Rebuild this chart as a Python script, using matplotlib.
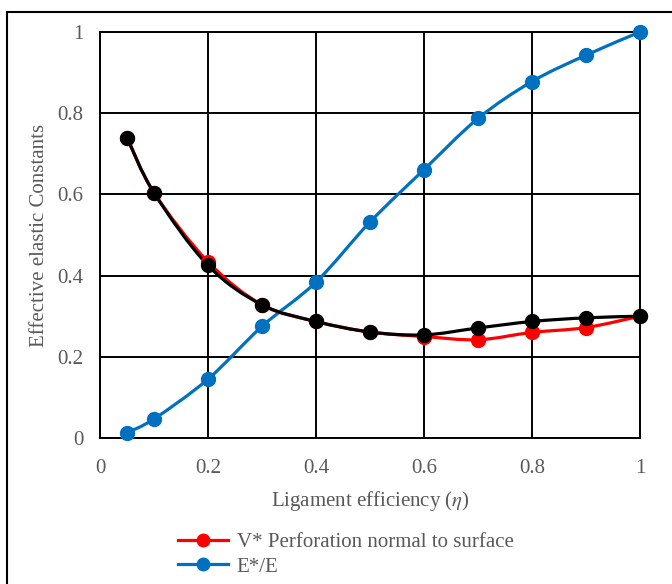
import numpy as np
import matplotlib
matplotlib.use("Agg")
import matplotlib.pyplot as plt
from matplotlib.path import Path
from matplotlib.patches import PathPatch, Rectangle
from matplotlib.lines import Line2D

plt.rcParams['font.family'] = ['Liberation Serif', 'DejaVu Serif']
plt.rcParams['mathtext.fontset'] = 'stix'

eta = [0.05, 0.1, 0.2, 0.3, 0.4, 0.5, 0.6, 0.7, 0.8, 0.9, 1.0]
v_normal = [0.740, 0.604, 0.434, 0.328, 0.287, 0.261, 0.250, 0.242, 0.260, 0.272, 0.300]
v_other = [0.740, 0.604, 0.425, 0.328, 0.287, 0.261, 0.254, 0.271, 0.287, 0.296, 0.300]
e_ratio = [0.013, 0.047, 0.145, 0.275, 0.384, 0.532, 0.661, 0.787, 0.878, 0.943, 1.000]

grey = '#595959'


def smooth_path(xs, ys):
    # excel-like smoothed line as cubic bezier segments
    pts = np.column_stack([xs, ys])
    n = len(pts)
    verts = [pts[0]]
    codes = [Path.MOVETO]
    for i in range(n - 1):
        p0 = pts[max(i - 1, 0)]
        p1 = pts[i]
        p2 = pts[i + 1]
        p3 = pts[min(i + 2, n - 1)]
        c1 = p1 + (p2 - p0) / 6.0
        c2 = p2 - (p3 - p1) / 6.0
        verts += [c1, c2, p2]
        codes += [Path.CURVE4] * 3
    return Path(verts, codes)


fig = plt.figure(figsize=(6.72, 5.84), dpi=100)
ax = fig.add_axes([100 / 672, 1 - 438 / 584, 540 / 672, 406 / 584])

series = [(e_ratio, '#0070C0'), (v_normal, '#FF0000'), (v_other, '#000000')]
for ys, col in series:
    ax.add_patch(PathPatch(smooth_path(eta, ys), facecolor='none', edgecolor=col,
                           lw=2.3, zorder=3, capstyle='round'))
    ax.plot(eta, ys, 'o', color=col, ms=10, zorder=4, clip_on=False)

ax.set_xlim(0, 1)
ax.set_ylim(0, 1)
ticks = [0, 0.2, 0.4, 0.6, 0.8, 1]
ax.set_xticks(ticks)
ax.set_yticks(ticks)
ax.set_xticklabels(['0', '0.2', '0.4', '0.6', '0.8', '1'])
ax.set_yticklabels(['0', '0.2', '0.4', '0.6', '0.8', '1'])
ax.tick_params(length=0, labelsize=15, colors=grey)
ax.tick_params(axis='x', pad=15)
ax.tick_params(axis='y', pad=12)
ax.grid(True, color='black', lw=1.4, zorder=1)
ax.set_axisbelow(True)
for s in ax.spines.values():
    s.set_color('black')
    s.set_linewidth(1.4)

ax.set_xlabel(r'Ligament efficiency ($\eta$)', fontsize=15, color=grey, labelpad=8)
ax.set_ylabel('Effective elastic Constants', fontsize=15, color=grey, labelpad=6)

handles = [Line2D([], [], color='#FF0000', lw=2.3, marker='o', ms=9),
           Line2D([], [], color='#0070C0', lw=2.3, marker='o', ms=9)]
labels = ['V* Perforation normal to surface', 'E*/E']
leg = fig.legend(handles, labels, loc='upper left', bbox_to_anchor=(170 / 672, 1 - 524 / 584),
                 frameon=False, fontsize=15, handlelength=2.4, handletextpad=0.4,
                 labelspacing=0.25, borderaxespad=0)
for t in leg.get_texts():
    t.set_color(grey)

fig.add_artist(Rectangle((7 / 672, -0.05), 1.1, 1 - 12 / 584 + 0.05,
                         transform=fig.transFigure, fill=False, ec='black', lw=1.5))

fig.savefig('out.png', dpi=100)
